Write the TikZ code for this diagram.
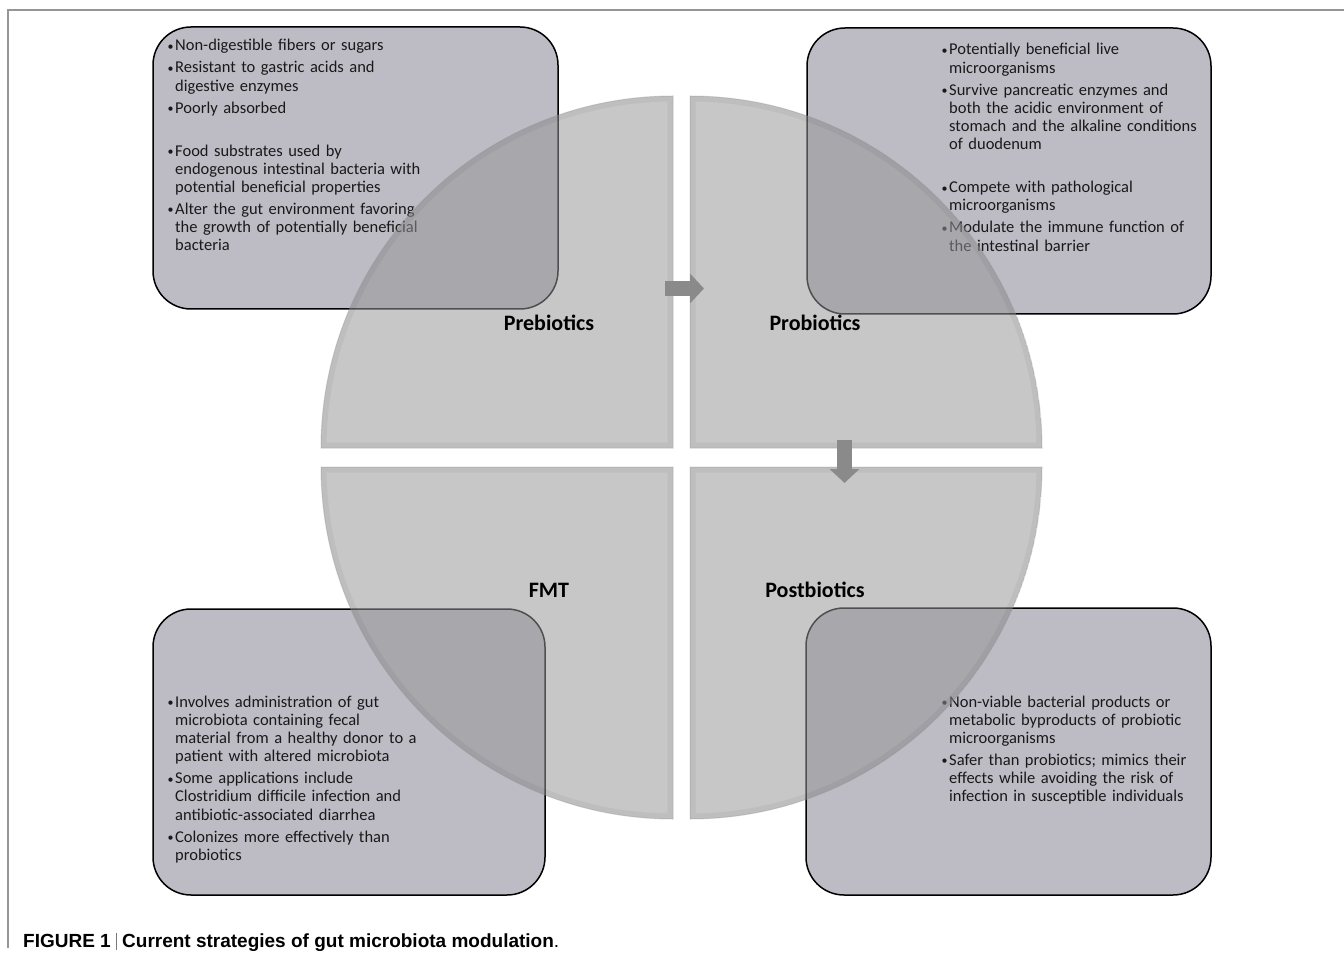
\documentclass[tikz,border=0pt]{standalone}
\usepackage{graphicx}
\usepackage{fontspec}
\setmainfont{Carlito}
\newfontfamily\captionfont{Liberation Sans}
\usetikzlibrary{arrows.meta}

\definecolor{boxfill}{RGB}{189,188,197}
\definecolor{quadgray}{RGB}{150,150,150}
\definecolor{quadrim}{RGB}{140,140,140}
\definecolor{arrowgray}{RGB}{138,138,138}
\definecolor{framegray}{RGB}{150,150,150}
\definecolor{bargray}{RGB}{120,120,120}
\definecolor{bodytext}{RGB}{25,25,25}

% small bullet with hanging indent for the list lines
\newcommand\bul{\makebox[7.5pt][l]{\raisebox{0.6pt}{\fontsize{12}{12}\selectfont•}}}
\newcommand\ind{\hspace*{7.5pt}}

% one quarter disc: corner, start angle, end angle
\newcommand\quadrant[3]{%
  \begin{scope}
    \clip #1 -- ++(#2:352) arc[start angle=#2, end angle=#3, radius=352] -- cycle;
    \path[quadfill] #1 -- ++(#2:352) arc[start angle=#2, end angle=#3, radius=352] -- cycle;
    \path[quadband] #1 -- ++(#2:352) arc[start angle=#2, end angle=#3, radius=352] -- cycle;
  \end{scope}
  \path[quadedge] #1 -- ++(#2:352) arc[start angle=#2, end angle=#3, radius=352] -- cycle;
}

\tikzset{
  infobox/.style={draw=black, line width=1.5pt, fill=boxfill, rounded corners=38pt},
  infotext/.style={anchor=base west, inner sep=0pt, text width=300pt, align=left,
    text=bodytext, font=\fontsize{16.5}{18.2}\selectfont},
  quadfill/.style={fill=quadgray, fill opacity=0.53},
  quadband/.style={draw=black, draw opacity=0.045, line width=11pt},
  quadedge/.style={draw=quadrim, draw opacity=0.3, line width=1pt},
  quadlabel/.style={anchor=base, inner sep=0pt, font=\fontsize{22}{26}\selectfont\bfseries},
  blockarrow/.style={draw=arrowgray, line width=15pt, -{Triangle[width=29pt,length=14pt]}},
}

\begin{document}
\begin{tikzpicture}[x=1pt, y=-1pt]
  \useasboundingbox (0,0) rectangle (1344,957);
  \fill[white] (0,0) rectangle (1344,957);

  % frame lines
  \draw[framegray, line width=1.5pt] (8,948) -- (8,10) -- (1344,10);

  % information boxes
  \draw[infobox] (153,27) rectangle (558,309);
  \draw[infobox] (807,28) rectangle (1211,314);
  \draw[infobox] (153,609) rectangle (545,895);
  \draw[infobox] (806,608) rectangle (1211,895);

  \node[infotext] (pre-text) at (167.5,51) {%
    \bul Non-digestible fibers or sugars\\[3.8pt]
    \bul Resistant to gastric acids and\\
    \ind digestive enzymes\\[3.8pt]
    \bul Poorly absorbed\\[24.8pt]
    \bul Food substrates used by\\
    \ind endogenous intestinal bacteria with\\
    \ind potential beneficial properties\\[3.8pt]
    \bul Alter the gut environment favoring\\
    \ind the growth of potentially beneficial\\
    \ind bacteria};

  \node[infotext] (pro-text) at (941.5,55) {%
    \bul Potentially beneficial live\\
    \ind microorganisms\\[3.8pt]
    \bul Survive pancreatic enzymes and\\
    \ind both the acidic environment of\\
    \ind stomach and the alkaline conditions\\
    \ind of duodenum\\[24.8pt]
    \bul Compete with pathological\\
    \ind microorganisms\\[3.8pt]
    \bul Modulate the immune function of\\
    \ind the intestinal barrier};

  \node[infotext] (fmt-text) at (167.5,707) {%
    \bul Involves administration of gut\\
    \ind microbiota containing fecal\\
    \ind material from a healthy donor to a\\
    \ind patient with altered microbiota\\[3.8pt]
    \bul Some applications include\\
    \ind Clostridium difficile infection and\\
    \ind antibiotic-associated diarrhea\\[3.8pt]
    \bul Colonizes more effectively than\\
    \ind probiotics};

  \node[infotext] (post-text) at (941.5,707) {%
    \bul Non-viable bacterial products or\\
    \ind metabolic byproducts of probiotic\\
    \ind microorganisms\\[3.8pt]
    \bul Safer than probiotics; mimics their\\
    \ind effects while avoiding the risk of\\
    \ind infection in susceptible individuals};

  % the four quarter discs
  \quadrant{(673,448)}{180}{270}
  \quadrant{(690,448)}{270}{360}
  \quadrant{(673,467)}{180}{90}
  \quadrant{(690,467)}{0}{90}

  % block arrows between the quarters
  \coordinate (pre-out) at (665,288.5);
  \coordinate (pro-in) at (704,288.5);
  \coordinate (pro-out) at (844.5,440);
  \coordinate (post-in) at (844.5,483);
  \draw[blockarrow] (pre-out) -- (pro-in);
  \draw[blockarrow] (pro-out) -- (post-in);

  % quarter labels
  \node[quadlabel] (pre) at (549,331) {Prebiotics};
  \node[quadlabel] (pro) at (815,331) {Probiotics};
  \node[quadlabel] (fmt) at (549,597) {FMT};
  \node[quadlabel] (post) at (815,597) {Postbiotics};

  % caption
  \node[anchor=base west, inner sep=0pt] (caption) at (23,947)
    {\captionfont\fontsize{19}{22}\selectfont\bfseries FIGURE 1
     \textcolor{bargray}{\rule[-3pt]{0.8pt}{17pt}}
     Current strategies of gut microbiota modulation\mdseries.};
\end{tikzpicture}
\end{document}
